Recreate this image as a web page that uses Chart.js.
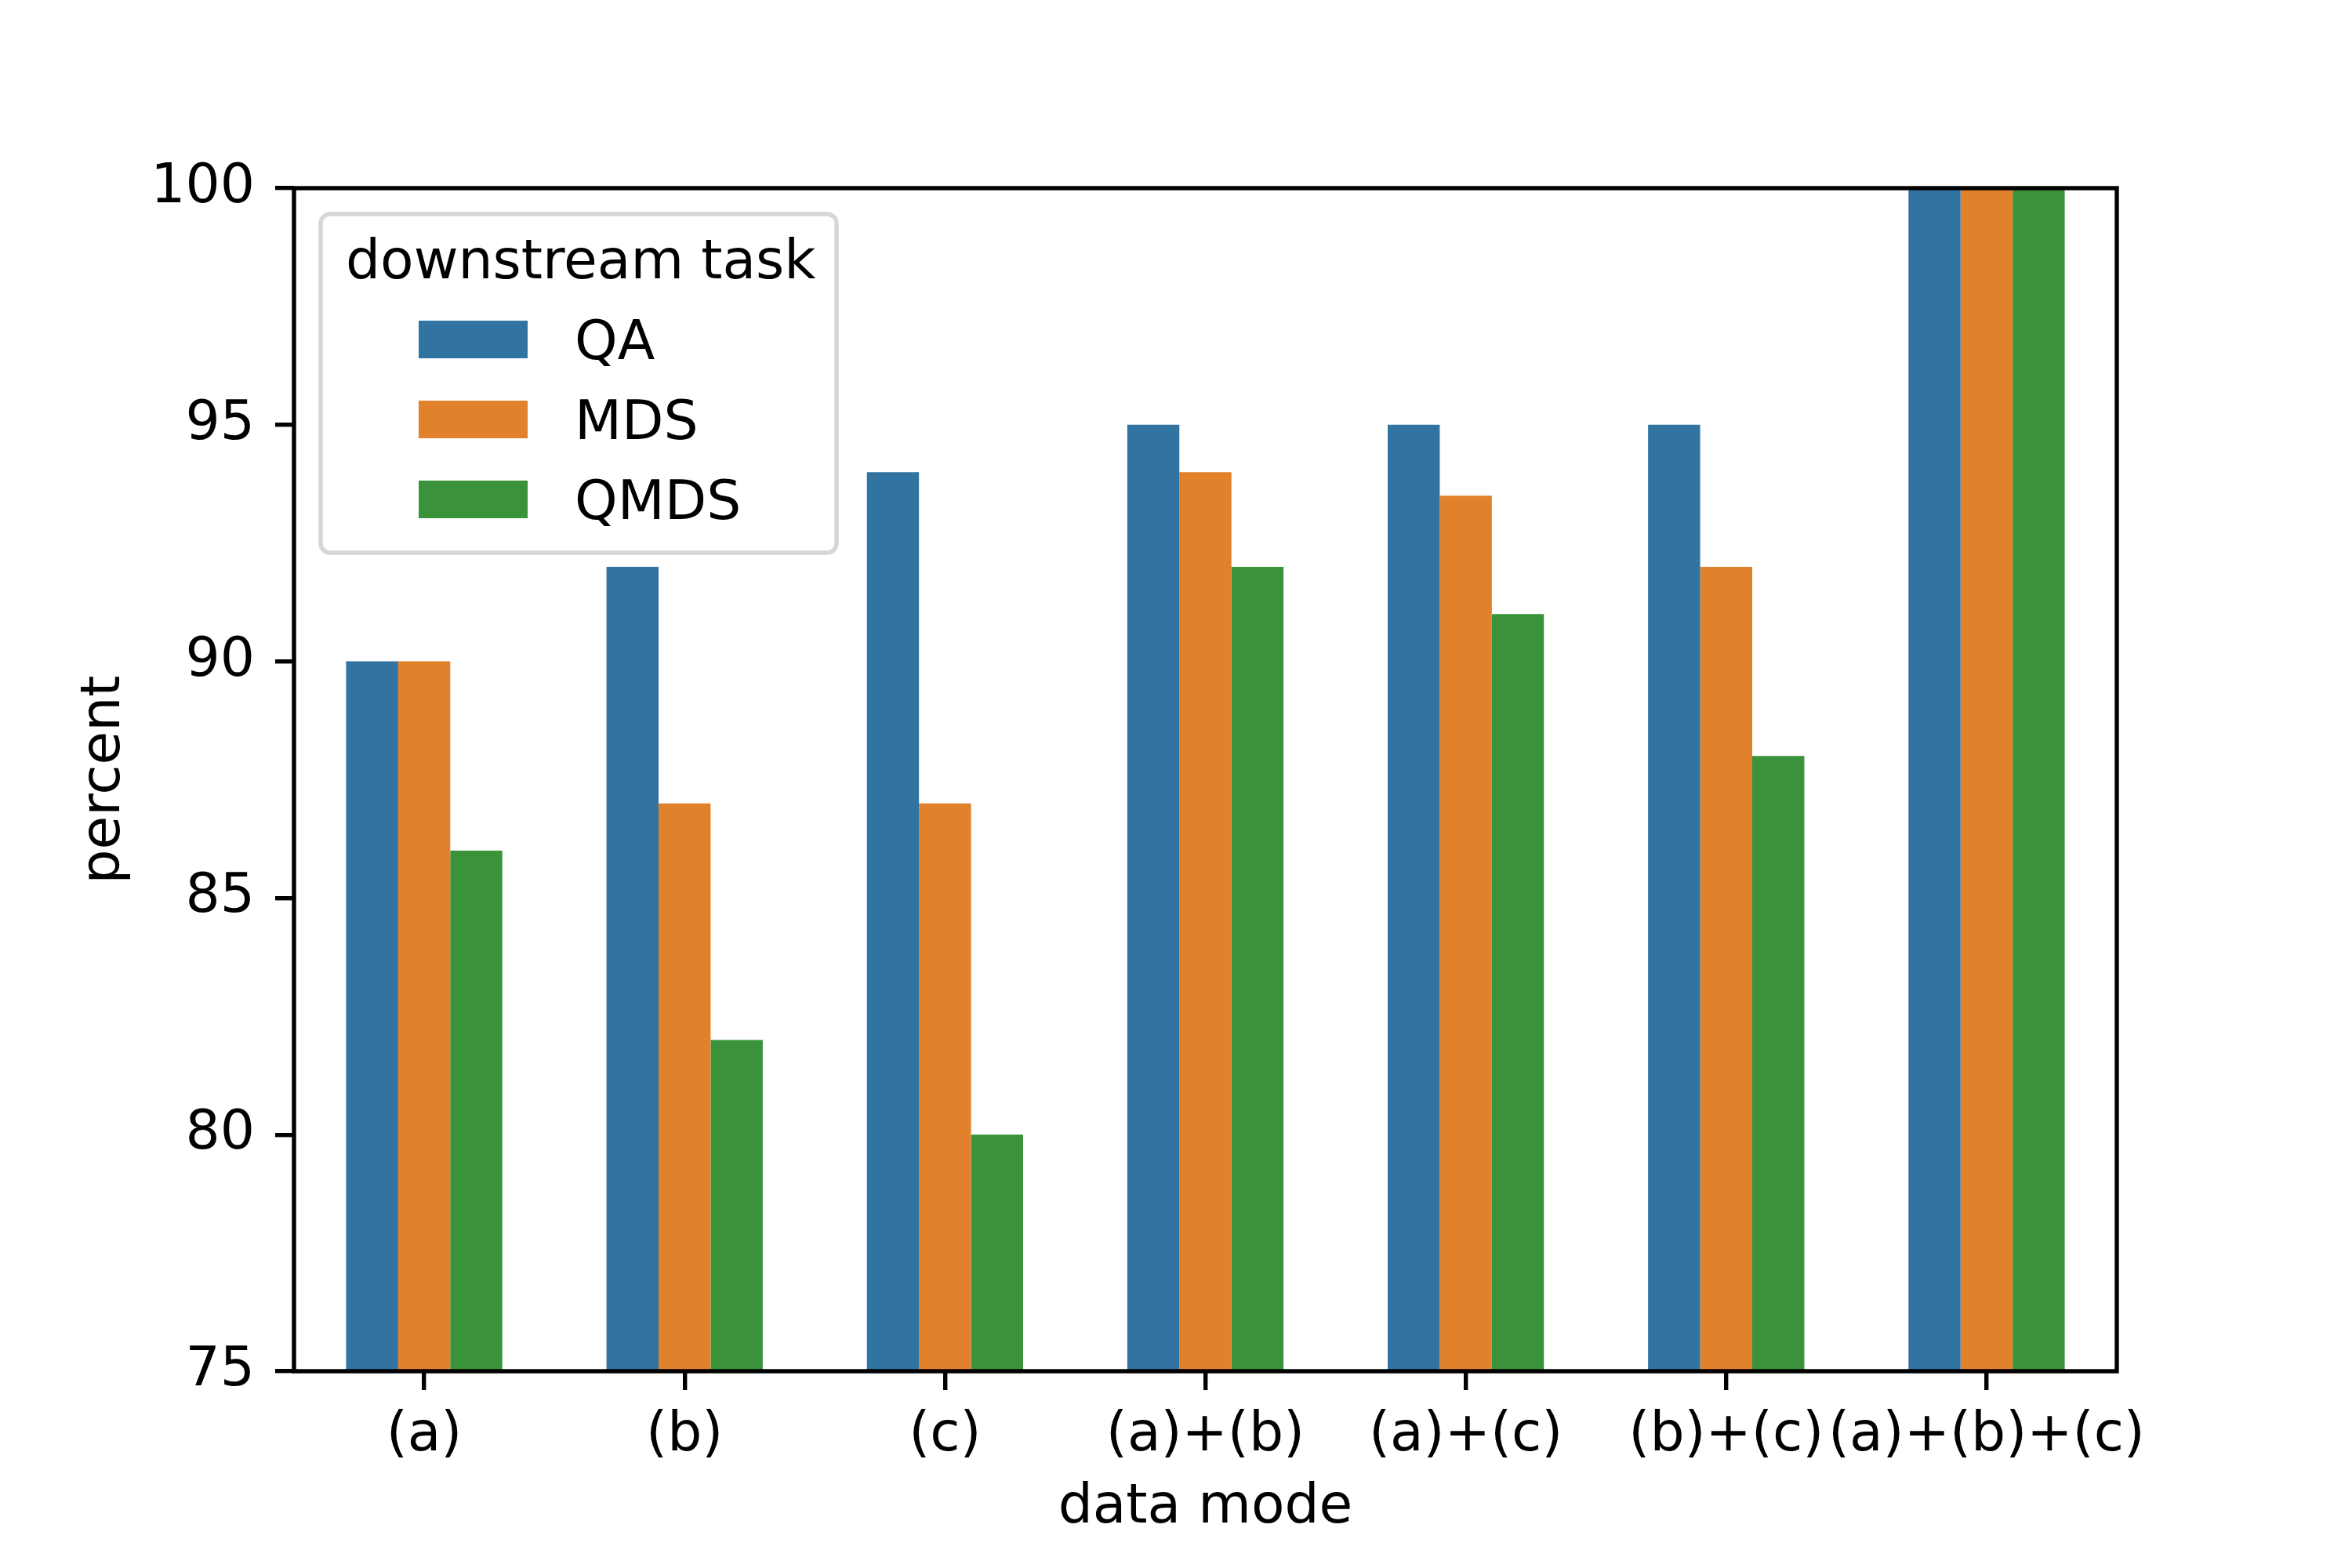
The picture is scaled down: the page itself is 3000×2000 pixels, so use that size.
<!DOCTYPE html>
<html>
<head>
<meta charset="utf-8">
<script src="https://cdn.jsdelivr.net/npm/chart.js@4/dist/chart.umd.min.js"></script>
<style>
  html, body { margin: 0; padding: 0; background: #fff; }
  #wrap { width: 3000px; height: 2000px; }
</style>
</head>
<body>
<div id="wrap"><canvas id="c" width="3000" height="2000"></canvas></div>
<script>
// values
var categories = ["(a)", "(b)", "(c)", "(a)+(b)", "(a)+(c)", "(b)+(c)", "(a)+(b)+(c)"];
var seriesNames = ["QA", "MDS", "QMDS"];
var qaValues   = [90, 92, 94, 95, 95,   95, 100];
var mdsValues  = [90, 87, 87, 94, 93.5, 92, 100];
var qmdsValues = [86, 82, 80, 92, 91,   88, 100];
var yTicks = [75, 80, 85, 90, 95, 100];
var legendTitle = "downstream task";
var xTitle = "data mode";
var yTitle = "percent";

var COLORS = ["#3274a1", "#e1812c", "#3a923a"];
var FONT = "'DejaVu Sans', sans-serif";
var FS = 69.5;        // font size (px)
var LW = 5.4;         // spine / tick width

/* black box around the plot area, drawn over the bars like matplotlib spines */
var framePlugin = {
  id: "frame",
  afterDatasetsDraw: function (chart) {
    var a = chart.chartArea, ctx = chart.ctx;
    ctx.save();
    ctx.strokeStyle = "#000";
    ctx.lineWidth = LW;
    ctx.lineJoin = "miter";
    ctx.strokeRect(a.left, a.top, a.right - a.left, a.bottom - a.top);
    ctx.restore();
  }
};

/* matplotlib-style legend box in the upper-left corner */
var legendPlugin = {
  id: "mplLegend",
  afterDraw: function (chart) {
    var ctx = chart.ctx;
    var box = { x: 409, y: 273, w: 658, h: 432, r: 12 };
    ctx.save();
    ctx.beginPath();
    ctx.roundRect(box.x, box.y, box.w, box.h, box.r);
    ctx.fillStyle = "rgba(255,255,255,0.8)";
    ctx.fill();
    ctx.lineWidth = LW;
    ctx.strokeStyle = "#d6d6d6";
    ctx.stroke();

    ctx.fillStyle = "#000";
    ctx.font = FS + "px " + FONT;
    ctx.textBaseline = "alphabetic";
    ctx.textAlign = "left";
    ctx.fillText(legendTitle, 441, 355);

    chart.data.datasets.forEach(function (ds, i) {
      var top = 409 + i * 102;
      ctx.fillStyle = ds.backgroundColor;
      ctx.fillRect(534, top, 139, 48);
      ctx.fillStyle = "#000";
      ctx.fillText(ds.label, 733, top + 49);
    });
    ctx.restore();
  }
};

var data = [qaValues, mdsValues, qmdsValues];

new Chart(document.getElementById("c"), {
  type: "bar",
  data: {
    labels: categories,
    datasets: seriesNames.map(function (name, i) {
      return {
        label: name,
        data: data[i],
        backgroundColor: COLORS[i],
        borderWidth: 0,
        categoryPercentage: 0.6,
        barPercentage: 1.0
      };
    })
  },
  options: {
    responsive: false,
    devicePixelRatio: 1,
    animation: false,
    layout: { padding: { left: 0, right: 300, top: 240, bottom: 0 } },
    plugins: {
      legend: { display: false },
      tooltip: { enabled: false }
    },
    scales: {
      x: {
        offset: true,
        grid: {
          display: true, offset: false, drawOnChartArea: false, drawTicks: true,
          tickLength: 24, lineWidth: LW, color: "#000"
        },
        border: { display: false },
        ticks: {
          autoSkip: false, maxRotation: 0, minRotation: 0,
          color: "#000", padding: 17,
          font: { family: FONT, size: FS, lineHeight: 1.2 }
        },
        title: {
          display: true, text: xTitle, color: "#000",
          font: { family: FONT, size: FS, lineHeight: 1.2 },
          padding: { top: 0, bottom: 34 }
        },
        afterFit: function (s) { s.height = 251; }
      },
      y: {
        min: 75, max: 100,
        grid: {
          display: true, drawOnChartArea: false, drawTicks: true,
          tickLength: 24, lineWidth: LW, color: "#000"
        },
        border: { display: false },
        ticks: {
          color: "#000", padding: 26,
          font: { family: FONT, size: FS, lineHeight: 1.2 }
        },
        afterBuildTicks: function (s) {
          s.ticks = yTicks.map(function (v) { return { value: v }; });
        },
        title: {
          display: true, text: yTitle, color: "#000",
          font: { family: FONT, size: FS, lineHeight: 1.2 },
          padding: { top: 92, bottom: 0 }
        },
        afterFit: function (s) { s.width = 375; }
      }
    }
  },
  plugins: [framePlugin, legendPlugin]
});
</script>
</body>
</html>
